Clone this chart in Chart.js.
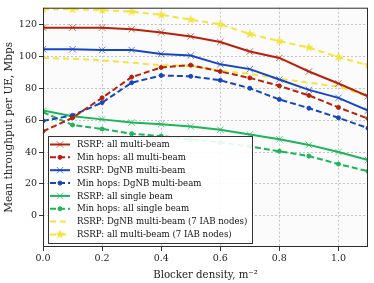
<!DOCTYPE html>
<html>
<head>
<meta charset="utf-8">
<script src="https://cdn.jsdelivr.net/npm/chart.js@4/dist/chart.umd.min.js"></script>
<style>
  html, body { margin: 0; padding: 0; background: #fff; }
  #wrap { width: 374px; height: 283px; }
</style>
</head>
<body>
<div id="wrap"><canvas id="grafica" width="374" height="283"></canvas></div>
<script>
// Datos
const densidad = [0, 0.1, 0.2, 0.3, 0.4, 0.5, 0.6, 0.7, 0.8, 0.9, 1.0, 1.1];
const rsrpTodos = [118, 118, 118, 117, 115, 112.5, 109, 103, 99, 90.5, 83, 75];
const saltosTodos = [53, 61.5, 74, 87, 93, 94.5, 90.5, 86.5, 81.5, 75.5, 68, 61];
const rsrpDgnb = [104.5, 104.5, 104, 104, 101.5, 100.5, 95, 92, 85.5, 79, 74, 66];
const saltosDgnb = [59.5, 63, 71, 83.5, 88, 87.5, 85, 80, 73, 67.5, 61.5, 55];
const rsrpSimple = [66, 62.5, 60.5, 58.5, 57.5, 56, 54, 51, 48, 44.5, 40, 35];
const saltosSimple = [65, 57, 54.5, 51.5, 50, 48, 46, 43.5, 40.5, 37.5, 32.5, 28];
const rsrpDgnb7 = [99, 98.5, 97.5, 96, 94.5, 94, 91, 89, 86, 83.5, 81, 75];
const rsrpTodos7 = [129.5, 129.5, 129, 128, 126, 123, 120, 114, 109.5, 105.5, 99.5, 94.5];

const etiquetas = [
  'RSRP: all multi-beam',
  'Min hops: all multi-beam',
  'RSRP: DgNB multi-beam',
  'Min hops: DgNB multi-beam',
  'RSRP: all single beam',
  'Min hops: all single beam',
  'RSRP: DgNB multi-beam (7 IAB nodes)',
  'RSRP: all multi-beam (7 IAB nodes)'
];
const ticksX = [0, 0.2, 0.4, 0.6, 0.8, 1.0];
const ticksY = [0, 20, 40, 60, 80, 100, 120];

const rojo = '#b8200c', azul = '#1446c4', verde = '#1bb55a', amarillo = '#f4e43e';
const fuente = "'DejaVu Serif', serif";

// estrella rellena para la ultima serie
function crearEstrella(color, r) {
  const c = document.createElement('canvas');
  c.width = c.height = r * 2 + 2;
  const g = c.getContext('2d');
  g.fillStyle = color;
  g.beginPath();
  for (let i = 0; i < 10; i++) {
    const rad = i % 2 === 0 ? r : r * 0.42;
    const a = -Math.PI / 2 + i * Math.PI / 5;
    g.lineTo(r + 1 + rad * Math.cos(a), r + 1 + rad * Math.sin(a));
  }
  g.closePath();
  g.fill();
  return c;
}
const estrella = crearEstrella(amarillo, 5);

function serie(i, datos, color, guion, punto, radio) {
  return {
    label: etiquetas[i],
    data: densidad.map((x, k) => ({ x: x, y: datos[k] })),
    borderColor: color,
    backgroundColor: color,
    borderWidth: 2,
    borderDash: guion,
    pointStyle: punto,
    pointRadius: radio,
    pointBorderWidth: 1,
    pointBorderColor: punto === 'crossRot' ? color + 'b0' : color,
    pointBackgroundColor: color,
    tension: 0
  };
}

const datasets = [
  serie(0, rsrpTodos, rojo, [], 'crossRot', 4.5),
  serie(1, saltosTodos, rojo, [6, 3], 'circle', 2),
  serie(2, rsrpDgnb, azul, [], 'crossRot', 4.5),
  serie(3, saltosDgnb, azul, [6, 3], 'circle', 2),
  serie(4, rsrpSimple, verde, [], 'crossRot', 4.5),
  serie(5, saltosSimple, verde, [6, 3], 'circle', 2),
  serie(6, rsrpDgnb7, amarillo, [6, 4], false, 0),
  serie(7, rsrpTodos7, amarillo, [6, 4], estrella, 5)
];

// fondo, marco y leyenda dentro del area
const extras = {
  id: 'extras',
  beforeDraw(chart) {
    const { ctx, chartArea: a } = chart;
    ctx.save();
    ctx.fillStyle = '#fbfbfb';
    ctx.fillRect(a.left, a.top, a.right - a.left, a.bottom - a.top);
    ctx.restore();
  },
  afterDraw(chart) {
    const { ctx, chartArea: a } = chart;
    ctx.save();
    ctx.strokeStyle = '#2b2b2b';
    ctx.lineWidth = 1;
    ctx.strokeRect(a.left + 0.5, a.top + 0.5, a.right - a.left - 1, a.bottom - a.top - 1);

    // leyenda
    const x0 = 48.5, y0 = 136.5, w = 204, h = 107;
    ctx.fillStyle = 'rgba(255,255,255,0.9)';
    ctx.fillRect(x0, y0, w, h);
    ctx.strokeStyle = '#333';
    ctx.strokeRect(x0, y0, w, h);
    ctx.font = '8.6px ' + fuente;
    ctx.textBaseline = 'middle';
    chart.data.datasets.forEach((ds, i) => {
      const y = 144.5 + i * 12.85;
      ctx.save();
      ctx.strokeStyle = ds.borderColor;
      ctx.lineWidth = 2;
      ctx.setLineDash(ds.borderDash);
      ctx.beginPath();
      ctx.moveTo(50, y);
      ctx.lineTo(70, y);
      ctx.stroke();
      ctx.setLineDash([]);
      if (ds.pointStyle) {
        ctx.strokeStyle = ds.pointBorderColor;
        ctx.fillStyle = ds.pointBackgroundColor;
        ctx.lineWidth = 1;
        Chart.helpers.drawPoint(ctx, { pointStyle: ds.pointStyle, radius: ds.pointRadius, rotation: 0, borderWidth: 1 }, 60, y);
      }
      ctx.restore();
      ctx.fillStyle = '#111';
      ctx.fillText(ds.label, 77, y + 0.5);
    });
    ctx.restore();
  }
};

const chart = new Chart(document.getElementById('grafica'), {
  type: 'line',
  data: { datasets: datasets },
  plugins: [extras],
  options: {
    animation: false,
    responsive: false,
    layout: { padding: { top: 5, right: 6, left: 0, bottom: 0 } },
    plugins: { legend: { display: false }, tooltip: { enabled: false } },
    scales: {
      x: {
        type: 'linear',
        min: 0,
        max: 1.1,
        afterBuildTicks: s => { s.ticks = ticksX.map(v => ({ value: v })); },
        afterFit: s => { s.height = 36; },
        ticks: {
          color: '#222',
          font: { family: fuente, size: 9.5 },
          padding: 2,
          maxRotation: 0,
          callback: v => v.toFixed(1)
        },
        grid: { color: '#c4c4c4', tickColor: '#333', tickLength: 4, tickBorderDash: [] },
        border: { display: false, dash: [2, 2] },
        title: { display: true, text: 'Blocker density, m⁻²', color: '#222', font: { family: fuente, size: 10.2 }, padding: { top: 0, bottom: 2 } }
      },
      y: {
        min: -19.5,
        max: 130.5,
        afterBuildTicks: s => { s.ticks = ticksY.map(v => ({ value: v })); },
        afterFit: s => { s.width = 43; },
        ticks: {
          color: '#222',
          font: { family: fuente, size: 9.5 },
          padding: 2
        },
        grid: { color: '#c4c4c4', tickColor: '#333', tickLength: 4, tickBorderDash: [] },
        border: { display: false, dash: [2, 2] },
        title: { display: true, text: 'Mean throughput per UE, Mbps', color: '#222', font: { family: fuente, size: 10.5 }, padding: { top: 3, bottom: 0 } }
      }
    }
  }
});
</script>
</body>
</html>
